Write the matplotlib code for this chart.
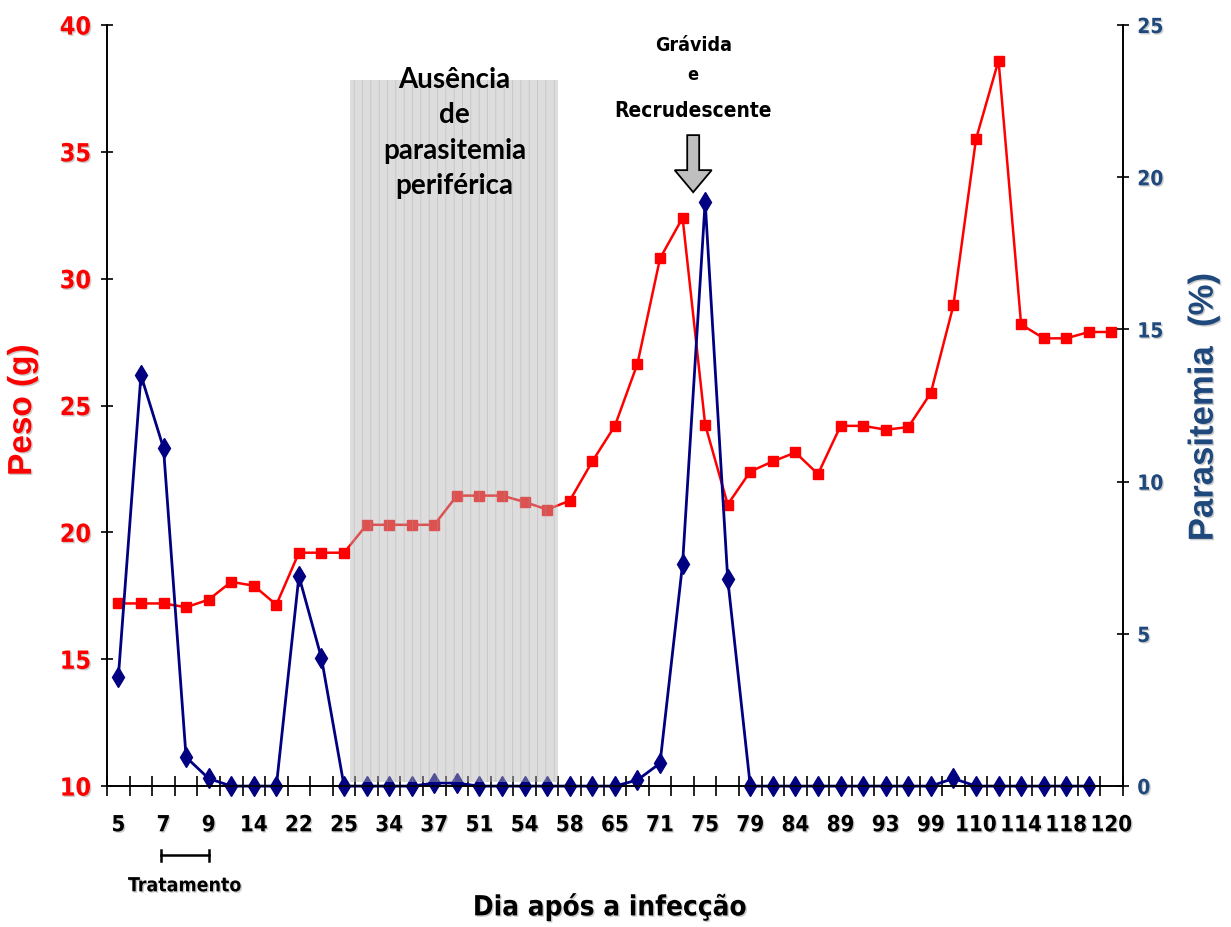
import matplotlib
matplotlib.use('Agg')
import matplotlib.pyplot as plt
import matplotlib.patheffects as pe
import matplotlib.transforms as mtransforms
from matplotlib.patches import Rectangle, FancyArrow
import numpy as np

# dias com rótulo no eixo (um rótulo a cada duas coletas)
dia_labels = ['5', '7', '9', '14', '22', '25', '34', '37', '51', '54', '58', '65',
              '71', '75', '79', '84', '89', '93', '99', '110', '114', '118', '120']

# peso corporal (g) em cada coleta
peso = [17.2, 17.2, 17.2, 17.05, 17.35, 18.05, 17.9, 17.15, 19.2, 19.2, 19.2,
        20.3, 20.3, 20.3, 20.3, 21.45, 21.45, 21.45, 21.2, 20.9, 21.25, 22.8,
        24.2, 26.65, 30.8, 32.4, 24.25, 21.1, 22.4, 22.8, 23.15, 22.3, 24.2,
        24.2, 24.05, 24.15, 25.5, 28.95, 35.5, 38.6, 28.2, 27.65, 27.65, 27.9, 27.9]

# parasitemia (%) em cada coleta
parasitemia = [3.6, 13.5, 11.1, 0.95, 0.25, 0, 0, 0, 6.9, 4.2, 0, 0, 0, 0,
               0.1, 0.1, 0, 0, 0, 0, 0, 0, 0, 0.2, 0.75, 7.3, 19.2, 6.8, 0, 0,
               0, 0, 0, 0, 0, 0, 0, 0.25, 0, 0, 0, 0, 0, 0]

NARROW = dict(family='DejaVu Sans', stretch='condensed', fontweight='bold')
RED = '#FF0000'
NAVY = '#000080'
TXT_BLUE = '#1F497D'
shadow = [pe.withSimplePatchShadow(offset=(1, -1), shadow_rgbFace='#999999', alpha=0.5)]

plt.rcParams['hatch.linewidth'] = 0.5

fig = plt.figure(figsize=(12.31, 9.27), dpi=100)
ax = fig.add_axes([0.087, 0.152, 0.825, 0.821])
ax2 = ax.twinx()

x_peso = np.arange(len(peso))
x_par = np.arange(len(parasitemia))

ax.plot(x_peso, peso, color=RED, lw=1.8, marker='s', markersize=7,
        markerfacecolor=RED, markeredgecolor=RED, zorder=3)
ax2.plot(x_par, parasitemia, color=NAVY, lw=2, marker='d', markersize=10,
         markerfacecolor=NAVY, markeredgecolor=NAVY, zorder=2, clip_on=False)

ax.set_xlim(-0.5, len(peso) - 0.5)
ax.set_ylim(10, 40)
ax2.set_ylim(0, 25)

# eixo x: marcas entre categorias, rótulos em categorias alternadas
ax.set_xticks(np.arange(0, len(peso), 2))
ax.set_xticklabels(dia_labels, fontsize=16, **NARROW)
ax.set_xticks(np.arange(-0.5, len(peso), 1), minor=True)
ax.tick_params(axis='x', which='major', length=0, pad=21)
ax.tick_params(axis='x', which='minor', direction='inout', length=15, width=1.2)

ax.set_yticks(np.arange(10, 41, 5))
ax.set_yticklabels([str(v) for v in range(10, 41, 5)], fontsize=18, color=RED,
                   **NARROW)
ax.tick_params(axis='y', direction='inout', length=9, width=1.2, pad=7)

ax2.set_yticks(np.arange(0, 26, 5))
ax2.set_yticklabels([str(v) for v in range(0, 26, 5)], fontsize=15,
                    color=TXT_BLUE, **NARROW)
ax2.tick_params(axis='y', direction='inout', length=9, width=1.2, pad=6)

for lab in ax.get_xticklabels() + ax.get_yticklabels() + ax2.get_yticklabels():
    lab.set_path_effects(shadow)

for a in (ax, ax2):
    a.spines['top'].set_visible(False)
    for s in ('left', 'right', 'bottom'):
        a.spines[s].set_linewidth(1.2)

ax.set_ylabel('Peso (g)', fontsize=24, fontweight='bold', color=RED,
              family=['Liberation Sans', 'DejaVu Sans'], path_effects=shadow)
ax.yaxis.set_label_coords(-0.068, 0.494)
ax2.set_ylabel('Parasitemia  (%)', fontsize=25, fontweight='bold', color=TXT_BLUE,
               family=['Liberation Sans', 'DejaVu Sans'], path_effects=shadow)
ax2.yaxis.set_label_coords(1.063, 0.498)

ax.set_xlabel('Dia após a infecção', fontsize=20, path_effects=shadow, **NARROW)
ax.xaxis.set_label_coords(0.495, -0.139)

# faixa sem parasitemia periférica
faixa = Rectangle((10.26, 0.13), 9.21, 23.07, facecolor='#b4b4b4', alpha=0.45,
                  edgecolor='#a0a0a0', hatch='||', lw=0, zorder=4)
ax2.add_patch(faixa)
for yv, txt in zip([23.2, 22.05, 20.85, 19.7],
                   ['Ausência', 'de', 'parasitemia', 'periférica']):
    ax2.text(14.9, yv, txt, ha='center', va='center', fontsize=20,
             fontweight='bold', family=['Lato', 'DejaVu Sans'], zorder=5)

# seta e anotação da recrudescência
seta = FancyArrow(25.47, 35.66, 0, -1.38, width=0.53, head_width=1.64,
                  head_length=0.87, length_includes_head=False,
                  facecolor='#bfbfbf', edgecolor='black', lw=1.3, zorder=6)
ax.add_patch(seta)
for yv, txt, fs in zip([39.2, 38.03, 36.6], ['Grávida', 'e', 'Recrudescente'],
                       [14, 13, 15]):
    ax.text(25.47, yv, txt, ha='center', va='center', fontsize=fs,
            clip_on=False, **NARROW)

# barra do período de tratamento
trans = mtransforms.blended_transform_factory(ax.transData, ax.transAxes)
ax.plot([1.9, 4.0], [-0.091, -0.091], color='black', lw=1.8, transform=trans,
        clip_on=False)
for xv in (1.9, 4.0):
    ax.plot([xv, xv], [-0.098, -0.084], color='black', lw=1.8, transform=trans,
            clip_on=False)
ax.text(2.95, -0.131, 'Tratamento', ha='center', va='center', fontsize=14,
        transform=trans, path_effects=shadow, **NARROW)

fig.savefig('out.png', dpi=100)
